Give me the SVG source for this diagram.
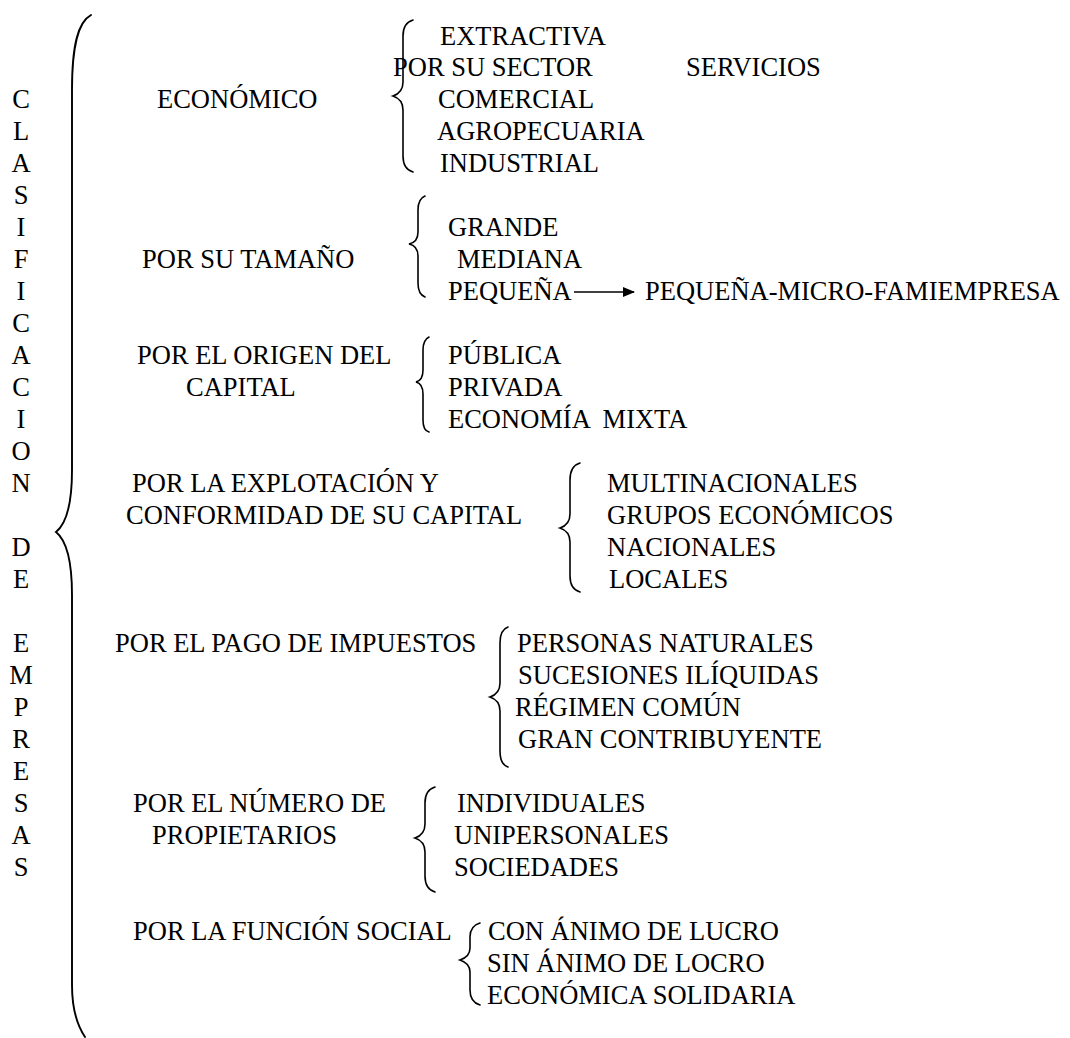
<svg xmlns="http://www.w3.org/2000/svg" width="1070" height="1038" viewBox="0 0 1070 1038" font-family="Liberation Serif" font-size="26.5">
<defs>
<style>
text{font-family:'Liberation Serif','Times New Roman',serif;font-size:26.5px;fill:#000}
.v{text-anchor:middle}
.br{fill:none;stroke:#000;stroke-width:1.6;stroke-linecap:round}
.big{stroke-width:1.9}
.ln{stroke:#000;stroke-width:1.6;fill:none}
</style>
<marker id="ah" markerWidth="12" markerHeight="10" refX="11" refY="5" orient="auto" markerUnits="userSpaceOnUse"><path d="M0,0 L12,5 L0,10 z" fill="#000"/></marker>
</defs>
<rect width="1070" height="1038" fill="#fff"/>
<g id="titulo">
<text class="v" x="21" y="108">C</text>
<text class="v" x="21" y="140">L</text>
<text class="v" x="21" y="172">A</text>
<text class="v" x="21" y="204">S</text>
<text class="v" x="21" y="236">I</text>
<text class="v" x="21" y="268">F</text>
<text class="v" x="21" y="300">I</text>
<text class="v" x="21" y="332">C</text>
<text class="v" x="21" y="364">A</text>
<text class="v" x="21" y="396">C</text>
<text class="v" x="21" y="428">I</text>
<text class="v" x="21" y="460">O</text>
<text class="v" x="21" y="492">N</text>
<text class="v" x="21" y="556">D</text>
<text class="v" x="21" y="588">E</text>
<text class="v" x="21" y="652">E</text>
<text class="v" x="21" y="684">M</text>
<text class="v" x="21" y="716">P</text>
<text class="v" x="21" y="748">R</text>
<text class="v" x="21" y="780">E</text>
<text class="v" x="21" y="812">S</text>
<text class="v" x="21" y="844">A</text>
<text class="v" x="21" y="876">S</text>
</g>
<g id="connectors">
<path class="br big" d="M91,15 C78,22 72,45 72,90 L72,470 C72,505 66,524 56,532 C66,540 72,560 72,595 L72,985 C72,1010 77,1025 85,1037"/>
<path class="br" d="M413,20 C406,22 403,28 403,36 L403,82 C403,90 399,94 393,96 C399,98 403,102 403,110 L403,156 C403,164 406,170 413,172"/>
<path class="br" d="M425,196 C420,198 418,203 418,210 L418,232 C418,239 414,243 409,244 C414,245 418,249 418,256 L418,283 C418,290 420,295 425,297"/>
<path class="br" d="M429,337 C425,339 423,343 423,350 L423,370 C423,377 420,381 416,382 C420,383 423,387 423,394 L423,420 C423,427 425,431 429,432"/>
<path class="br" d="M580,463 C573,465 570,471 570,480 L570,514 C570,522 566,526 560,528 C566,530 570,534 570,542 L570,576 C570,585 573,590 580,592"/>
<path class="br" d="M508,627 C502,629 500,635 500,643 L500,683 C500,691 496,695 490,697 C496,699 500,703 500,711 L500,751 C500,759 502,765 508,767"/>
<path class="br" d="M435,787 C428,789 425,795 425,803 L425,824 C425,832 421,836 415,838 C421,840 425,844 425,852 L425,876 C425,884 428,890 435,892"/>
<path class="br" d="M480,923 C473,925 470,930 470,937 L470,948 C470,955 466,958 460,960 C466,962 470,965 470,972 L470,990 C470,998 473,1003 480,1005"/>
<line class="ln" x1="574" y1="292" x2="634" y2="292" marker-end="url(#ah)"/>
</g>
<g id="economico">
<text x="157" y="108">ECONÓMICO</text>
<text x="393" y="76">POR SU SECTOR</text>
<text x="440" y="45">EXTRACTIVA</text>
<text x="686" y="76">SERVICIOS</text>
<text x="438" y="108">COMERCIAL</text>
<text x="437" y="140">AGROPECUARIA</text>
<text x="440" y="172">INDUSTRIAL</text>
</g>
<g id="tamano">
<text x="142" y="268">POR SU TAMAÑO</text>
<text x="448" y="236">GRANDE</text>
<text x="457" y="268">MEDIANA</text>
<text x="448" y="300">PEQUEÑA</text>
<text x="645" y="300">PEQUEÑA-MICRO-FAMIEMPRESA</text>
</g>
<g id="origen">
<text x="137" y="364">POR EL ORIGEN DEL</text>
<text x="186" y="396">CAPITAL</text>
<text x="448" y="364">PÚBLICA</text>
<text x="448" y="396">PRIVADA</text>
<text x="448" y="428" xml:space="preserve">ECONOMÍA  MIXTA</text>
</g>
<g id="explotacion">
<text x="132" y="492">POR LA EXPLOTACIÓN Y</text>
<text x="126" y="524">CONFORMIDAD DE SU CAPITAL</text>
<text x="607" y="492">MULTINACIONALES</text>
<text x="607" y="524">GRUPOS ECONÓMICOS</text>
<text x="607" y="556">NACIONALES</text>
<text x="609" y="588">LOCALES</text>
</g>
<g id="impuestos">
<text x="115" y="652">POR EL PAGO DE IMPUESTOS</text>
<text x="517" y="652">PERSONAS NATURALES</text>
<text x="518" y="684">SUCESIONES ILÍQUIDAS</text>
<text x="515" y="716">RÉGIMEN COMÚN</text>
<text x="518" y="748">GRAN CONTRIBUYENTE</text>
</g>
<g id="propietarios">
<text x="133" y="812">POR EL NÚMERO DE</text>
<text x="152" y="844">PROPIETARIOS</text>
<text x="457" y="812">INDIVIDUALES</text>
<text x="454" y="844">UNIPERSONALES</text>
<text x="454" y="876">SOCIEDADES</text>
</g>
<g id="funcion">
<text x="133" y="940">POR LA FUNCIÓN SOCIAL</text>
<text x="488" y="940">CON ÁNIMO DE LUCRO</text>
<text x="487" y="972">SIN ÁNIMO DE LOCRO</text>
<text x="487" y="1004">ECONÓMICA SOLIDARIA</text>
</g>
</svg>
